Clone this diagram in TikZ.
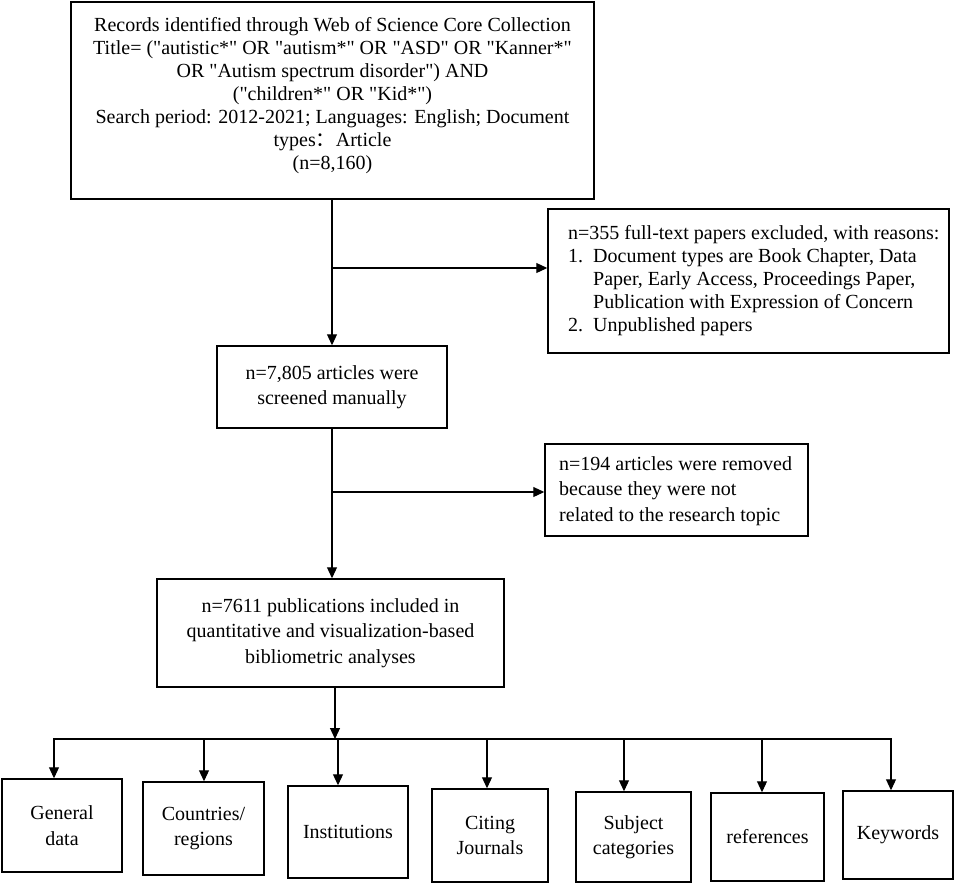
\documentclass[tikz,border=0pt]{standalone}
\usepackage{fontspec}
\setmainfont{Liberation Serif}
\newfontfamily\cjkfont{Noto Sans CJK SC}
\usetikzlibrary{arrows.meta}
\newcommand{\dq}{\textquotedbl}
\begin{document}
\begin{tikzpicture}[x=1pt,y=-1pt,
  box/.style={draw, line width=1.5pt, inner sep=0pt, align=center,
    font=\fontsize{20}{25.5}\selectfont},
  boxtext/.style={inner sep=0pt, align=left, anchor=west},
  conn/.style={line width=1.1pt, line cap=rect},
  arr/.style={conn, -{Triangle[length=11pt,width=10pt]}},
]
\useasboundingbox (0,0) rectangle (957,884);

% top box
\node[box, minimum width=523, minimum height=197] (top) at (332.5,100.5) {};
\node[font=\fontsize{20}{23}\selectfont, align=center, inner sep=0pt] (toptxt) at (332.5,95.5)
  {Records identified through Web of Science Core Collection\\
   Title= (\dq autistic*\dq{} OR \dq autism*\dq{} OR \dq ASD\dq{} OR \dq Kanner*\dq\\
   OR \dq Autism spectrum disorder\dq) AND\\
   (\dq children*\dq{} OR \dq Kid*\dq)\hspace*{30pt}\\
   Search period: 2012-2021; Languages: English; Document\\
   types{\cjkfont ：}Article\hspace*{30pt}\\
   (n=8,160)};

% excluded box
\node[box, minimum width=401, minimum height=144] (ex1) at (748.5,281) {};
\node[boxtext, font=\fontsize{20}{23}\selectfont] (ex1t) at (568,281)
  {n=355 full-text papers excluded, with reasons:\\
   \makebox[25pt][l]{1.}Document types are Book Chapter, Data\\
   \hspace*{25pt}Paper, Early Access, Proceedings Paper,\\
   \hspace*{25pt}Publication with Expression of Concern\\
   \makebox[25pt][l]{2.}Unpublished papers};

% screened box
\node[box, minimum width=230, minimum height=82] (scr) at (332,387)
  {n=7,805 articles were\\ screened manually};

% removed box
\node[box, minimum width=263, minimum height=92] (rm) at (676.5,490) {};
\node[boxtext, font=\fontsize{20}{25.5}\selectfont] (rmt) at (559,491)
  {n=194 articles were removed\\ because they were not\\ related to the research topic};

% included box
\node[box, minimum width=347, minimum height=108] (pub) at (330.5,633)
  {n=7611 publications included in\\ quantitative and visualization-based\\ bibliometric analyses};

% bottom boxes
\node[box, minimum width=120, minimum height=93] (b1) at (62,825.5) {General\\ data};
\node[box, minimum width=121, minimum height=93] (b2) at (203.5,828.5) {Countries/\\ regions};
\node[box, minimum width=120, minimum height=92] (b3) at (348,832) {Institutions};
\node[box, minimum width=116, minimum height=93] (b4) at (490,835.5) {Citing\\ Journals};
\node[box, minimum width=115, minimum height=90] (b5) at (633.5,837) {Subject\\ categories};
\node[box, minimum width=113, minimum height=88] (b6) at (767.5,837) {references};
\node[box, minimum width=110, minimum height=88] (b7) at (898,835) {Keywords};

% connectors
\draw[arr] (top.south -| scr.north) -- (scr.north);
\coordinate (j1) at (332,268);
\draw[arr] (j1) -- (j1 -| ex1.west);
\draw[arr] (scr.south) -- (scr.south |- pub.north);
\coordinate (j2) at (332,492);
\draw[arr] (j2) -- (j2 -| rm.west);

\coordinate (hub) at (335,739);
\draw[arr] (pub.south -| hub) -- (hub);

\coordinate (a1) at (54,0);
\coordinate (a2) at (204,0);
\coordinate (a3) at (338,0);
\coordinate (a4) at (487,0);
\coordinate (a5) at (624,0);
\coordinate (a6) at (762,0);
\coordinate (a7) at (891,0);

\draw[arr, line cap=butt, line join=miter] (hub -| a7) -- (hub -| a1) -- (a1 |- b1.north);
\draw[arr] (hub -| a2) -- (a2 |- b2.north);
\draw[arr] (hub -| a3) -- (a3 |- b3.north);
\draw[arr] (hub -| a4) -- (a4 |- b4.north);
\draw[arr] (hub -| a5) -- (a5 |- b5.north);
\draw[arr] (hub -| a6) -- (a6 |- b6.north);
\draw[arr] (hub -| a7) -- (a7 |- b7.north);
\end{tikzpicture}
\end{document}
